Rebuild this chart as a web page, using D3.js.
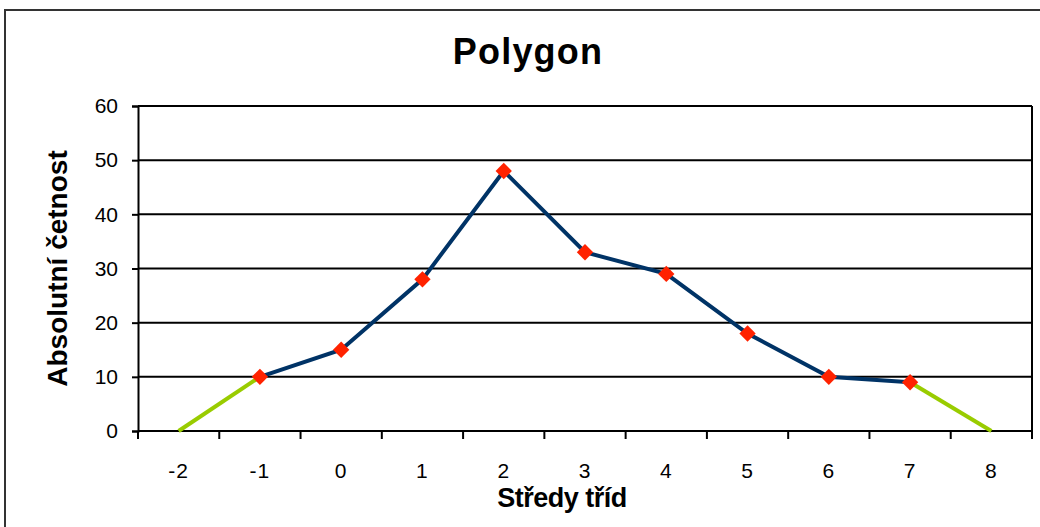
<!DOCTYPE html>
<html>
<head>
<meta charset="utf-8">
<script src="https://cdn.jsdelivr.net/npm/d3@7"></script>
<style>
  html, body { margin: 0; padding: 0; background: #fff; }
  svg { display: block; font-family: "Liberation Sans", Arial, sans-serif; }
</style>
</head>
<body>
<svg id="chart" width="1040" height="527"></svg>
<script>
// Class midpoints and absolute frequencies
const categories = [-2, -1, 0, 1, 2, 3, 4, 5, 6, 7, 8];
const frequencies = [0, 10, 15, 28, 48, 33, 29, 18, 10, 9, 0];
const yTicks = [0, 10, 20, 30, 40, 50, 60];

const svg = d3.select("#chart");
const margin = { left: 138, right: 8, top: 106, bottom: 96 };
const W = 1040, H = 527;
const plotW = W - margin.left - margin.right;
const plotH = H - margin.top - margin.bottom;

const x = d3.scaleBand().domain(categories).range([margin.left, margin.left + plotW]);
const y = d3.scaleLinear().domain([0, 60]).range([margin.top + plotH, margin.top]);
const cx = d => x(d) + x.bandwidth() / 2;

// chart frame
svg.append("path")
  .attr("d", `M5,${H} V10 H${W}`)
  .attr("fill", "none").attr("stroke", "#333").attr("stroke-width", 2);

// title
svg.append("text").attr("x", 528).attr("y", 64).attr("text-anchor", "middle")
  .attr("font-size", 36).attr("font-weight", "bold").attr("letter-spacing", 1.2)
  .text("Polygon");

// horizontal gridlines
svg.append("g").selectAll("line").data(yTicks.slice(1)).join("line")
  .attr("x1", margin.left).attr("x2", margin.left + plotW)
  .attr("y1", d => y(d)).attr("y2", d => y(d))
  .attr("stroke", "#000").attr("stroke-width", 2);

// right border of plot area
svg.append("line")
  .attr("x1", margin.left + plotW).attr("x2", margin.left + plotW)
  .attr("y1", y(60)).attr("y2", y(0))
  .attr("stroke", "#000").attr("stroke-width", 2);

// y axis
const yAxis = svg.append("g").attr("transform", `translate(${margin.left},0)`)
  .call(d3.axisLeft(y).tickValues(yTicks).tickSize(6).tickPadding(14));
yAxis.selectAll("text").attr("font-size", 21).attr("fill", "#000")
  .attr("font-family", "Liberation Sans, Arial, sans-serif");
yAxis.selectAll("line, path").attr("stroke", "#000").attr("stroke-width", 2);

// x axis: ticks at class boundaries
const xg = svg.append("g");
xg.append("line").attr("x1", margin.left).attr("x2", margin.left + plotW)
  .attr("y1", y(0)).attr("y2", y(0)).attr("stroke", "#000").attr("stroke-width", 2);
const bounds = categories.map(c => x(c)).concat([margin.left + plotW]);
xg.selectAll("line.tk").data(bounds).join("line").attr("class", "tk")
  .attr("x1", d => d).attr("x2", d => d)
  .attr("y1", y(0)).attr("y2", y(0) + 8)
  .attr("stroke", "#000").attr("stroke-width", 2);
xg.selectAll("text").data(categories).join("text")
  .attr("x", d => cx(d)).attr("y", 478).attr("text-anchor", "middle")
  .attr("font-size", 21).attr("letter-spacing", 1).text(d => d < 0 ? "-" + Math.abs(d) : d);

// axis titles
svg.append("text").attr("transform", `translate(67,${(y(0) + y(60)) / 2 + 0}) rotate(-90)`)
  .attr("text-anchor", "middle").attr("font-size", 28).attr("font-weight", "bold")
  .text("Absolutní četnost");
svg.append("text").attr("x", 562).attr("y", 507).attr("text-anchor", "middle")
  .attr("font-size", 27).attr("font-weight", "bold").attr("letter-spacing", -0.5)
  .text("Středy tříd");

// polygon line
const pts = categories.map((c, i) => [cx(c), y(frequencies[i])]);
const line = d3.line();
const last = pts.length - 1;
svg.append("path").attr("d", line(pts.slice(0, 2))).attr("fill", "none")
  .attr("stroke", "#99cc00").attr("stroke-width", 4);
svg.append("path").attr("d", line(pts.slice(last - 1))).attr("fill", "none")
  .attr("stroke", "#99cc00").attr("stroke-width", 4);
svg.append("path").attr("d", line(pts.slice(1, last))).attr("fill", "none")
  .attr("stroke", "#003366").attr("stroke-width", 4);

// markers
const diamond = d3.symbol().type(d3.symbolDiamond2).size(170);
svg.append("g").selectAll("path").data(pts.slice(1, last)).join("path")
  .attr("transform", d => `translate(${d[0]},${d[1]})`)
  .attr("d", diamond).attr("fill", "#ff2200");
</script>
</body>
</html>
